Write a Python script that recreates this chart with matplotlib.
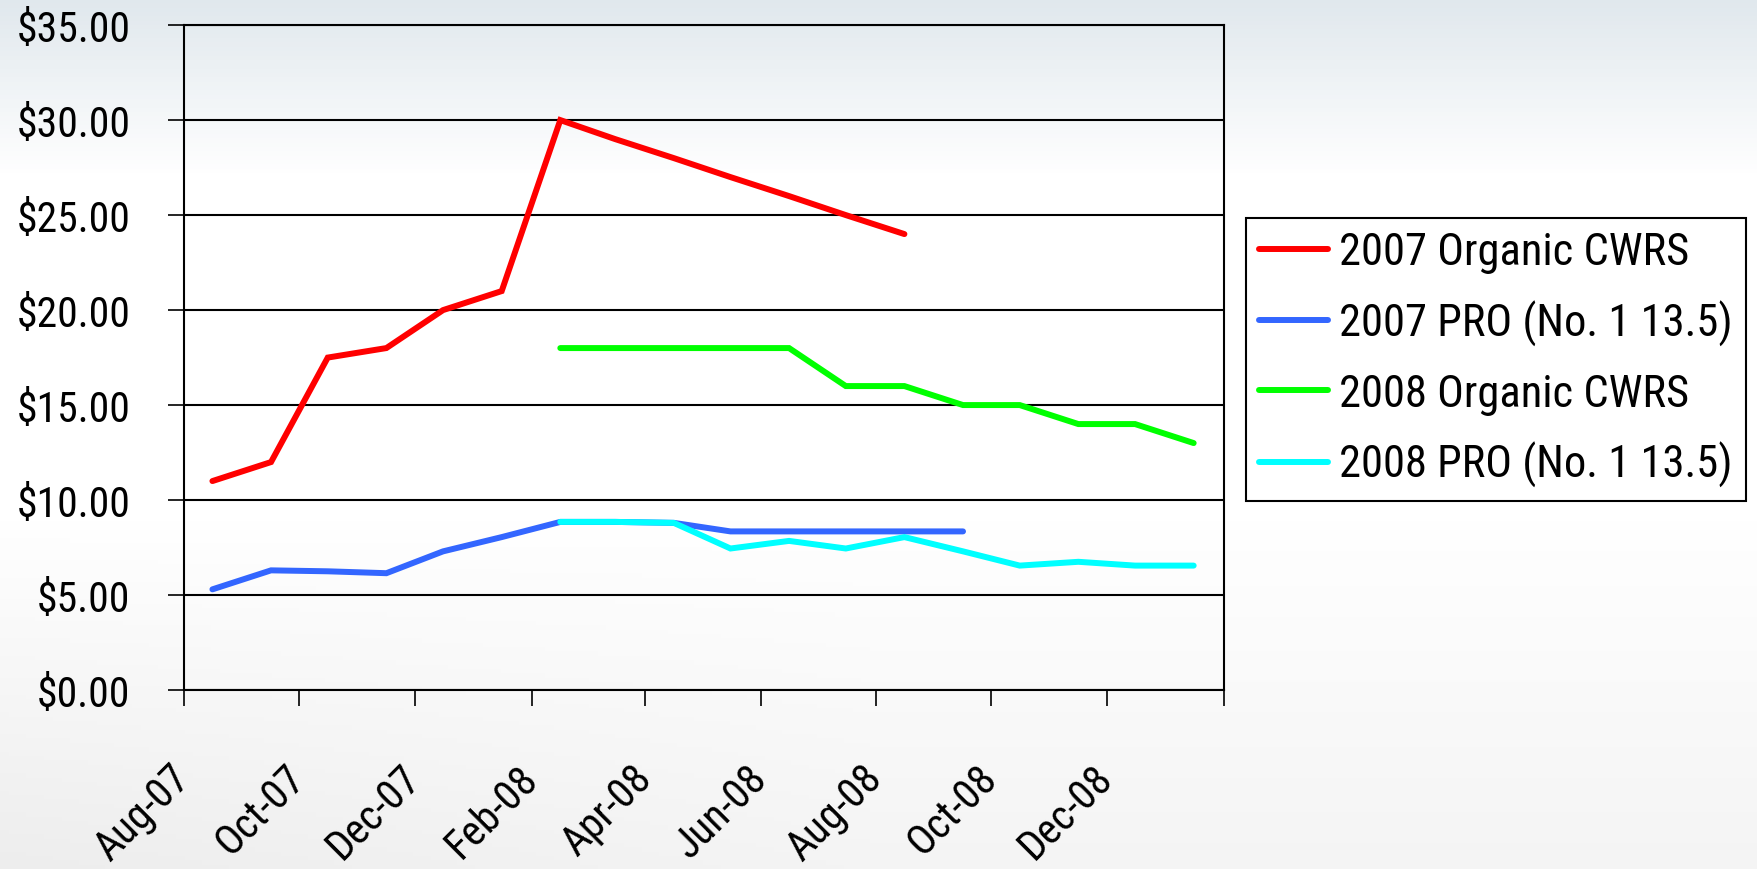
import numpy as np
import matplotlib.pyplot as plt
import matplotlib.dates as mdates
import matplotlib.font_manager as fm
from matplotlib.ticker import StrMethodFormatter, FuncFormatter, MultipleLocator

# Arial Narrow look-alike: take the first one that is installed
installed = {f.name for f in fm.fontManager.ttflist}
family = "Liberation Sans"
for name in ["Liberation Sans Narrow", "Arial Narrow", "Roboto Condensed", "Archivo Narrow",
             "PT Sans Narrow", "IBM Plex Sans Condensed"]:
    if name in installed:
        family = name
        break
plt.rcParams["font.family"] = [family, "DejaVu Sans"]

# monthly prices ($/bu), plotted mid-month
red_months = ["2007-08", "2007-09", "2007-10", "2007-11", "2007-12", "2008-01", "2008-02",
              "2008-03", "2008-04", "2008-05", "2008-06", "2008-07", "2008-08"]
red_vals = [11.0, 12.0, 17.5, 18.0, 20.0, 21.0, 30.0, 29.0, 28.0, 27.0, 26.0, 25.0, 24.0]

blue_months = red_months + ["2008-09"]
blue_vals = [5.3, 6.3, 6.25, 6.15, 7.3, 8.05, 8.85, 8.85, 8.8, 8.35, 8.35, 8.35, 8.35, 8.35]

green_months = ["2008-02", "2008-03", "2008-04", "2008-05", "2008-06", "2008-07",
                "2008-08", "2008-09", "2008-10", "2008-11", "2008-12", "2009-01"]
green_vals = [18, 18, 18, 18, 18, 16, 16, 15, 15, 14, 14, 13]

cyan_months = green_months
cyan_vals = [8.85, 8.85, 8.8, 7.45, 7.85, 7.45, 8.05, 7.3, 6.55, 6.75, 6.55, 6.55]

labels = ["2007 Organic CWRS", "2007 PRO (No. 1 13.5)",
          "2008 Organic CWRS", "2008 PRO (No. 1 13.5)"]
colors = ["#ff0000", "#3366ff", "#00ff00", "#00ffff"]


def mid_month(months):
    return np.array(months, dtype="datetime64[M]").astype("datetime64[D]") + np.timedelta64(15, "D")


fig = plt.figure(figsize=(17.58, 8.70), dpi=100)

# faded backdrop
bg_ax = fig.add_axes([0, 0, 1, 1], zorder=-10)
h, w = 200, 200
yy = np.linspace(0, 1, h)[:, None] * np.ones((1, w))
xx = np.ones((h, 1)) * np.linspace(0, 1, w)[None, :]
top = np.clip(1 - yy / 0.2, 0, 1)
bottom = np.clip((yy - 0.6) / 0.4, 0, 1) * (0.6 + 0.4 * np.clip(1 - xx / 0.5, 0, 1))
img = np.ones((h, w, 3))
img -= top[..., None] * np.array([0.12, 0.09, 0.07])
img -= bottom[..., None] * 0.07
bg_ax.imshow(np.clip(img, 0, 1), aspect="auto", extent=[0, 1, 0, 1], origin="upper")
bg_ax.axis("off")

ax = fig.add_axes([0.1047, 0.2057, 0.5915, 0.7643])
ax.set_facecolor("none")

series = [(red_months, red_vals), (blue_months, blue_vals),
          (green_months, green_vals), (cyan_months, cyan_vals)]
for (m, v), lab, c in zip(series, labels, colors):
    ax.plot(mid_month(m), v, color=c, lw=4.3, label=lab, solid_capstyle="round", solid_joinstyle="miter")

ax.set_xlim(np.datetime64("2007-08-01"), np.datetime64("2009-02-01"))
ax.set_ylim(0, 35)
ax.yaxis.set_major_locator(MultipleLocator(5))
ax.yaxis.set_major_formatter(StrMethodFormatter("${x:.2f}"))

ax.xaxis.set_major_locator(mdates.MonthLocator(bymonth=[2, 4, 6, 8, 10, 12]))
end = mdates.date2num(np.datetime64("2009-02-01"))
ax.xaxis.set_major_formatter(FuncFormatter(
    lambda x, pos: "" if x >= end - 1 else mdates.num2date(x).strftime("%b-%y")))

ax.grid(axis="y", color="black", lw=1.5)
ax.set_axisbelow(True)
for s in ax.spines.values():
    s.set_color("black")
    s.set_linewidth(1.5)

ax.tick_params(axis="y", length=11.5, width=1.2, labelsize=30, pad=27)
ax.tick_params(axis="x", length=11.5, width=1.2, labelsize=30, pad=47)
for t in ax.get_xticklabels():
    t.set_rotation(45)
    t.set_ha("right")
    t.set_va("center")
    t.set_rotation_mode("anchor")

leg = ax.legend(loc="upper left", bbox_to_anchor=(0.7088, 0.7483), bbox_transform=fig.transFigure,
                fontsize=32, frameon=True, fancybox=False, edgecolor="black",
                facecolor="white", framealpha=1, handlelength=1.55, handletextpad=0.25,
                labelspacing=0.6, borderpad=0.3, borderaxespad=0)
leg.get_frame().set_linewidth(1.5)

fig.savefig("out.png", dpi=100)
